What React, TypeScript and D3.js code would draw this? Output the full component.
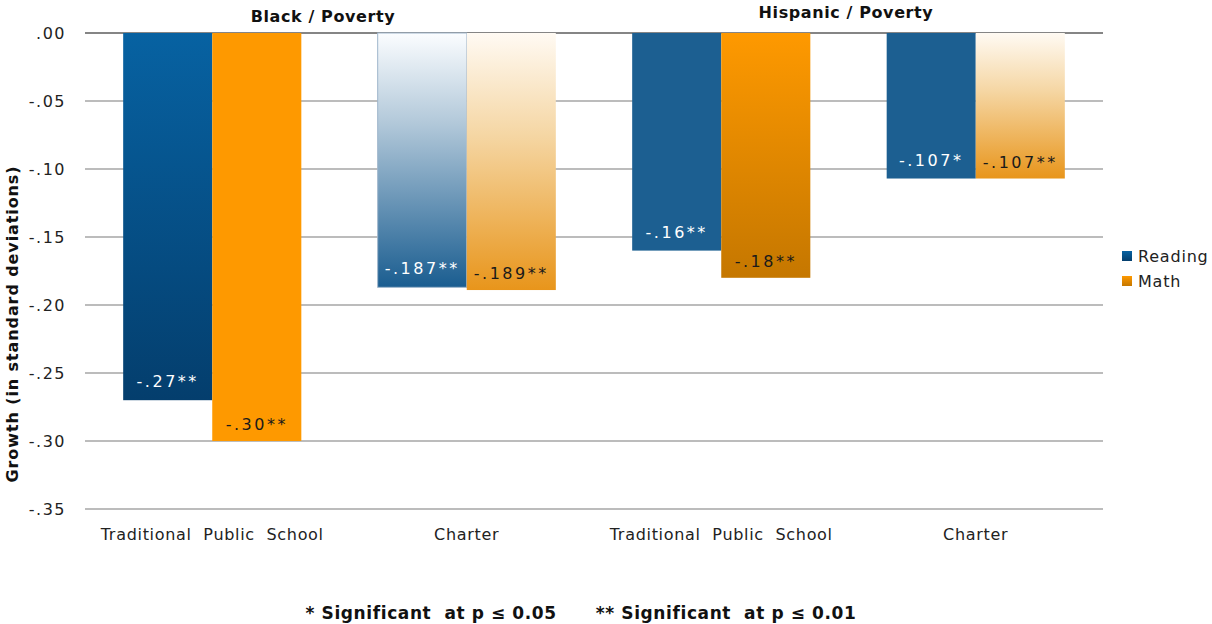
import React from "react";
import * as d3 from "d3";

const categories = ["Traditional  Public  School", "Charter", "Traditional  Public  School", "Charter"];
const groupTitles = ["Black / Poverty", "Hispanic / Poverty"];
const reading = [-0.27, -0.187, -0.16, -0.107];
const math = [-0.30, -0.189, -0.18, -0.107];
const readingLabels = ["-.27**", "-.187**", "-.16**", "-.107*"];
const mathLabels = ["-.30**", "-.189**", "-.18**", "-.107**"];
const yTicks = [0, -0.05, -0.1, -0.15, -0.2, -0.25, -0.3, -0.35];
const yTickLabels = [".00", "-.05", "-.10", "-.15", "-.20", "-.25", "-.30", "-.35"];
const series = ["Reading", "Math"];

const readingFills = ["url(#rdDark)", "url(#rdFade)", "#1c5f91", "#1c5f91"];
const mathFills = ["#fe9900", "url(#mtFade)", "url(#mtDark)", "url(#mtFade)"];

export default function App() {
  const W = 1212, H = 624;
  const left = 85, right = 1103, top = 33, bottom = 509;
  const y = d3.scaleLinear().domain([0, -0.35]).range([top, bottom]);
  const x = d3.scaleBand<number>().domain([0, 1, 2, 3]).range([left, right]).paddingInner(0.3).paddingOuter(0.15);
  const inner = d3.scaleBand<number>().domain([0, 1]).range([0, x.bandwidth()]);
  const font = "'DejaVu Sans', Verdana, sans-serif";

  return (
    <svg width={W} height={H} style={{ position: "absolute", left: 0, top: 0 }} fontFamily={font}>
      <defs>
        <linearGradient id="rdDark" x1="0" y1="0" x2="0" y2="1">
          <stop offset="0" stopColor="#0762a2" />
          <stop offset="1" stopColor="#043e6d" />
        </linearGradient>
        <linearGradient id="rdFade" x1="0" y1="0" x2="0" y2="1">
          <stop offset="0" stopColor="#fbfdff" />
          <stop offset="0.35" stopColor="#b3c9da" />
          <stop offset="1" stopColor="#1a5d90" />
        </linearGradient>
        <linearGradient id="mtFade" x1="0" y1="0" x2="0" y2="1">
          <stop offset="0" stopColor="#fffaf3" />
          <stop offset="0.4" stopColor="#f5d6a3" />
          <stop offset="1" stopColor="#e8951b" />
        </linearGradient>
        <linearGradient id="mtDark" x1="0" y1="0" x2="0" y2="1">
          <stop offset="0" stopColor="#fe9900" />
          <stop offset="1" stopColor="#c57700" />
        </linearGradient>
        <linearGradient id="legRd" x1="0" y1="0" x2="0" y2="1">
          <stop offset="0" stopColor="#0762a2" />
          <stop offset="1" stopColor="#043e6d" />
        </linearGradient>
        <linearGradient id="legMt" x1="0" y1="0" x2="0" y2="1">
          <stop offset="0" stopColor="#fe9900" />
          <stop offset="1" stopColor="#c57700" />
        </linearGradient>
      </defs>

      {yTicks.map((t, i) => (
        <g key={i}>
          <line x1={left} x2={right} y1={y(t)} y2={y(t)} stroke={i === 0 ? "#858585" : "#a6a6a6"} strokeWidth={i === 0 ? 2.2 : 1.5} />
          <text x={66} y={y(t)} dy="0.35em" textAnchor="end" fontSize={16} letterSpacing={1.5} fill="#222">{yTickLabels[i]}</text>
        </g>
      ))}

      {categories.map((c, i) => {
        const x0 = x(i)!;
        const bw = inner.bandwidth();
        const rx = x0 + inner(0)!;
        const mx = x0 + inner(1)!;
        return (
          <g key={i}>
            <rect x={rx} y={y(0)} width={bw} height={y(reading[i]) - y(0)} fill={readingFills[i]} stroke={i === 1 ? "#9fb6cc" : "none"} strokeWidth={i === 1 ? 1 : 0} />
            <rect x={mx} y={y(0)} width={bw} height={y(math[i]) - y(0)} fill={mathFills[i]} />
            <text x={rx + bw / 2} y={y(reading[i]) - 13} textAnchor="middle" fontSize={16} fill="#ffffff" letterSpacing={2.5}>{readingLabels[i]}</text>
            <text x={mx + bw / 2} y={y(math[i]) - 11} textAnchor="middle" fontSize={16} fill="#1a1a1a" letterSpacing={2.5}>{mathLabels[i]}</text>
            <text x={x0 + x.bandwidth() / 2} y={540} textAnchor="middle" fontSize={16} fill="#222" style={{ whiteSpace: "pre" }} letterSpacing={0.7}>{c}</text>
          </g>
        );
      })}

      <text x={323} y={22} textAnchor="middle" fontSize={16} fontWeight="bold" fill="#111" letterSpacing={0.6}>{groupTitles[0]}</text>
      <text x={846} y={18} textAnchor="middle" fontSize={16} fontWeight="bold" fill="#111" letterSpacing={0.6}>{groupTitles[1]}</text>

      <text transform={`translate(18,324) rotate(-90)`} textAnchor="middle" fontSize={16} fontWeight="bold" fill="#111" letterSpacing={0.9}>Growth (in standard deviations)</text>

      {series.map((s, i) => (
        <g key={s}>
          <rect x={1122} y={251 + i * 25} width={10} height={10} fill={i === 0 ? "url(#legRd)" : "url(#legMt)"} />
          <text x={1138} y={256 + i * 25} dy="0.35em" fontSize={16} fill="#222" letterSpacing={0.8}>{s}</text>
        </g>
      ))}

      <text x={581} y={619} textAnchor="middle" fontSize={17} fontWeight="bold" fill="#111" letterSpacing={0.6} style={{ whiteSpace: "pre" }}>{"* Significant  at p ≤ 0.05      ** Significant  at p ≤ 0.01"}</text>
    </svg>
  );
}
